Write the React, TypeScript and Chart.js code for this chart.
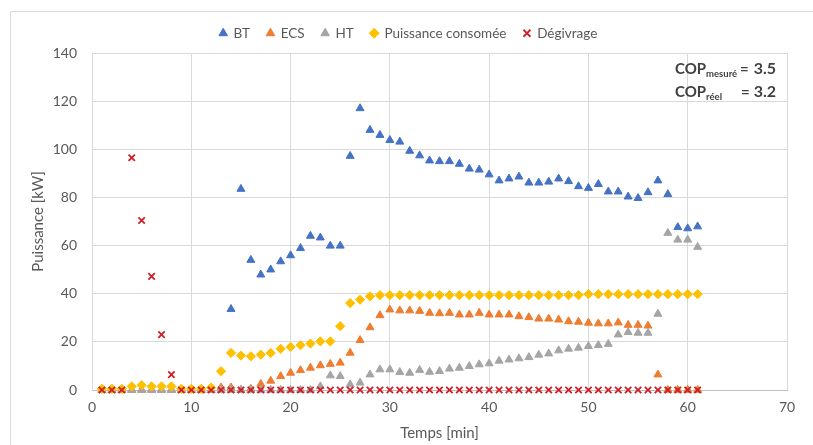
import React, { useEffect, useRef } from 'react';
import { Chart, registerables } from 'chart.js';

Chart.register(...registerables);

const minutes = [1, 2, 3, 4, 5, 6, 7, 8, 9, 10, 11, 12, 13, 14, 15, 16, 17, 18, 19, 20, 21, 22, 23, 24, 25, 26, 27, 28, 29, 30, 31, 32, 33, 34, 35, 36, 37, 38, 39, 40, 41, 42, 43, 44, 45, 46, 47, 48, 49, 50, 51, 52, 53, 54, 55, 56, 57, 58, 59, 60, 61];

const btValues = [null, null, null, null, null, null, null, null, null, null, null, null, null,
  33.6, 83.5, 54, 47.9, 50, 53.4, 55.9, 58.9, 64, 63.3, 59.9, 59.9, 97.2, 117, 108, 105.9, 103.8,
  103.1, 99.3, 97.4, 95.3, 95, 95, 93.9, 91.9, 91.5, 89.5, 87, 87.8, 88.6, 86.1, 86.1, 86.5, 87.8,
  86.7, 84.6, 83.9, 85.5, 82.4, 82.4, 80.3, 79.7, 82.1, 87, 81.3, 67.6, 67.1, 67.9];

const ecsValues = [0, 0, 0, 0, 0, 0, 0, 0, 0, 0, 0, 0, 1, 1, 0, 0.5, 2.5, 3.8, 5.7, 7.1, 8.2, 9.2, 10.2,
  10.8, 11.3, 15.4, 20.7, 26, 31, 33.4, 33, 33, 32.8, 32, 31.8, 32, 31.3, 31.3, 32, 31.3, 31.3, 31.3,
  30.6, 30.2, 29.6, 29.6, 29.2, 28.5, 28.3, 27.9, 27.6, 27.6, 28, 27, 27, 26.7, 6.4, 0, 0, 0, 0];

const htValues = [0, 0, 0, 0, 0, 0, 0, 0, 0, 0, 0, 0, 0, 0, 0, 0, 0, 0, 0, 0, 0, 0, 1.5, 6, 5.7, 2.3, 3,
  6.4, 8.5, 8.5, 7.4, 7.1, 8.3, 7.5, 7.8, 8.8, 9.2, 9.9, 10.6, 11, 12.1, 12.6, 13.1, 13.6, 14.6, 15.1,
  16.4, 17.1, 17.5, 18.2, 18.6, 19.1, 23, 24, 23.7, 23.7, 31.6, 65.2, 62.4, 62.4, 59.4];

const puissanceValues = [0.5, 0.5, 0.5, 1.5, 2, 1.5, 1.5, 1.5, 0.5, 0.5, 0.5, 1, 7.8, 15.4, 14.3, 14,
  14.7, 15.4, 17.1, 17.9, 18.6, 19.3, 20.2, 20.2, 26.5, 36.1, 37.5, 38.9, 39.4, 39.4, 39.4, 39.4, 39.4,
  39.4, 39.4, 39.4, 39.4, 39.4, 39.4, 39.4, 39.4, 39.4, 39.4, 39.4, 39.4, 39.4, 39.4, 39.4, 39.4, 39.8,
  39.8, 39.8, 39.8, 39.8, 39.8, 39.8, 39.8, 39.8, 39.8, 39.8, 39.8];

const degivrageValues = [0, 0, 0, 96.5, 70.4, 47.2, 23, 6.4, 0, 0, 0, 0, 0, 0, 0, 0, 0, 0, 0, 0, 0, 0,
  0, 0, 0, 0, 0, 0, 0, 0, 0, 0, 0, 0, 0, 0, 0, 0, 0, 0, 0, 0, 0, 0, 0, 0, 0, 0, 0, 0, 0, 0, 0, 0, 0, 0,
  0, 0, 0, 0, 0];

const seriesLabels = ['BT', 'ECS', 'HT', 'Puissance consomée', 'Dégivrage'];
const xTitle = 'Temps [min]';
const yTitle = 'Puissance [kW]';
const copLines = [
  { main: 'COP', sub: 'mesuré', value: '3.5' },
  { main: 'COP', sub: 'réel', value: '3.2' },
];

const FONT = 'Lato, "Open Sans", sans-serif';
const TEXT = '#595959';
const GRID = '#D9D9D9';

const toPoints = (arr: (number | null)[]) =>
  minutes.map((m, i) => ({ x: m, y: arr[i] })).filter((p) => p.y !== null);

export default function App() {
  const ref = useRef<HTMLCanvasElement>(null);

  useEffect(() => {
    if (!ref.current) return;

    const framePlugin = {
      id: 'frame',
      beforeDraw(chart: any) {
        const { ctx, width, height } = chart;
        ctx.save();
        ctx.fillStyle = '#ffffff';
        ctx.fillRect(0, 0, width, height);
        ctx.strokeStyle = GRID;
        ctx.lineWidth = 1;
        ctx.beginPath();
        ctx.moveTo(10.5, height);
        ctx.lineTo(10.5, 11.5);
        ctx.lineTo(width, 11.5);
        ctx.stroke();
        ctx.restore();
      },
    };

    const legendShift = {
      id: 'legendShift',
      afterLayout(chart: any) {
        const lg = chart.legend;
        if (!lg) return;
        const dx = 15;
        const dy = -3;
        lg.left += dx;
        lg.right += dx;
        lg.top += dy;
        lg.bottom += dy;
      },
    };

    const copPlugin = {
      id: 'cop',
      afterDraw(chart: any) {
        const { ctx } = chart;
        ctx.save();
        ctx.fillStyle = '#404040';
        ctx.textBaseline = 'alphabetic';
        const x0 = 675;
        const baselines = [74, 97];
        const eqX = [740, 741];
        const valueRight = 776;
        copLines.forEach((l, i) => {
          const b = baselines[i];
          ctx.font = `bold 15px ${FONT}`;
          ctx.textAlign = 'left';
          ctx.fillText(l.main, x0, b);
          const w = ctx.measureText(l.main).width;
          ctx.font = `bold 9.5px ${FONT}`;
          ctx.fillText(l.sub, x0 + w, b + 3);
          ctx.font = `bold 15px ${FONT}`;
          ctx.fillText('=', eqX[i], b);
          ctx.font = `bold 16px ${FONT}`;
          ctx.textAlign = 'right';
          ctx.fillText(l.value, valueRight, b);
        });
        ctx.restore();
      },
    };

    const pointCommon = { showLine: false, clip: false as any };

    const chart = new Chart(ref.current, {
      type: 'scatter',
      data: {
        datasets: [
          {
            ...pointCommon,
            label: seriesLabels[0],
            data: toPoints(btValues),
            pointStyle: 'triangle',
            pointRadius: 4.6,
            backgroundColor: '#4472C4',
            borderColor: '#4472C4',
            borderWidth: 1,
            order: 5,
          },
          {
            ...pointCommon,
            label: seriesLabels[1],
            data: toPoints(ecsValues),
            pointStyle: 'triangle',
            pointRadius: 4.6,
            backgroundColor: '#ED7D31',
            borderColor: '#ED7D31',
            borderWidth: 1,
            order: 4,
          },
          {
            ...pointCommon,
            label: seriesLabels[2],
            data: toPoints(htValues),
            pointStyle: 'triangle',
            pointRadius: 4.6,
            backgroundColor: '#A5A5A5',
            borderColor: '#A5A5A5',
            borderWidth: 1,
            order: 3,
          },
          {
            ...pointCommon,
            label: seriesLabels[3],
            data: toPoints(puissanceValues),
            pointStyle: 'rectRot',
            pointRadius: 4.6,
            backgroundColor: '#FFC000',
            borderColor: '#FFC000',
            borderWidth: 1,
            order: 2,
          },
          {
            ...pointCommon,
            label: seriesLabels[4],
            data: toPoints(degivrageValues),
            pointStyle: 'crossRot',
            pointRadius: 4.5,
            backgroundColor: '#D01E24',
            borderColor: '#D01E24',
            borderWidth: 1.8,
            order: 1,
          },
        ],
      },
      options: {
        responsive: false,
        animation: false,
        layout: { padding: { left: 0, right: 26, top: 12.5, bottom: 0 } },
        plugins: {
          tooltip: { enabled: false },
          legend: {
            position: 'top',
            labels: {
              usePointStyle: true,
              boxWidth: 7,
              boxHeight: 7,
              padding: 17,
              color: TEXT,
              font: { family: FONT, size: 13.5 },
              sort: (a: any, b: any) => a.datasetIndex - b.datasetIndex,
            },
          },
        },
        scales: {
          x: {
            type: 'linear',
            min: 0,
            max: 70,
            afterFit: (s: any) => { s.height = 55; },
            ticks: { stepSize: 10, color: TEXT, padding: 9, font: { family: FONT, size: 14 } },
            grid: { color: GRID, drawTicks: false },
            border: { color: '#BFBFBF' },
            title: {
              display: true,
              text: xTitle,
              color: TEXT,
              font: { family: FONT, size: 15 },
              padding: { top: 0, bottom: 3 },
            },
          },
          y: {
            type: 'linear',
            min: 0,
            max: 140,
            afterFit: (s: any) => { s.width = 92; },
            ticks: { stepSize: 20, color: TEXT, padding: 15, font: { family: FONT, size: 14 } },
            grid: { color: GRID, drawTicks: false },
            border: { color: GRID },
            title: {
              display: true,
              text: yTitle,
              color: TEXT,
              font: { family: FONT, size: 15 },
              padding: { top: 29, bottom: 0 },
            },
          },
        },
      },
      plugins: [framePlugin, legendShift, copPlugin],
    });

    return () => chart.destroy();
  }, []);

  return (
    <div style={{ position: 'absolute', left: 0, top: 0, width: 813, height: 445, background: '#fff' }}>
      <canvas ref={ref} width={813} height={445} style={{ display: 'block' }} />
    </div>
  );
}
